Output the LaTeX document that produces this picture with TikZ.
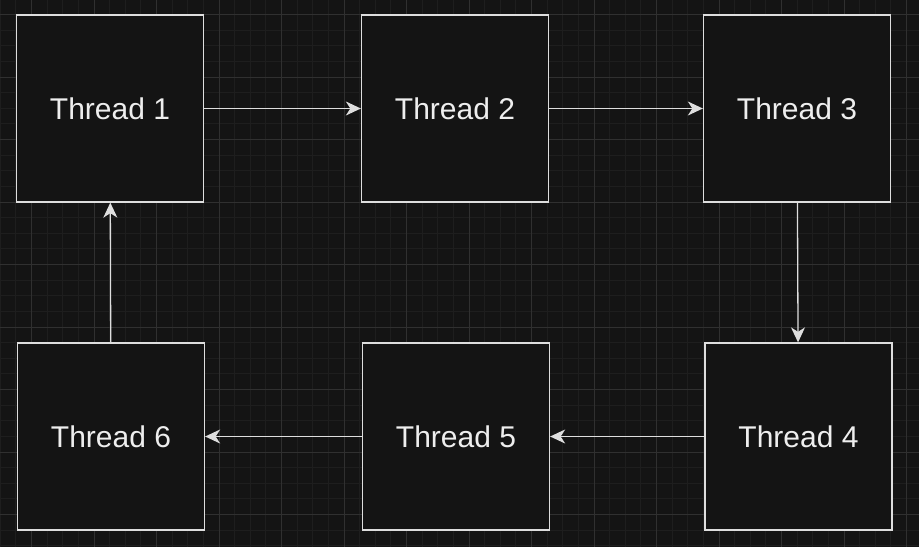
\documentclass[tikz,border=0pt]{standalone}
\usepackage{fontspec}
\setmainfont{Liberation Sans}
\usetikzlibrary{arrows.meta}

\definecolor{fundo}{RGB}{20,20,20}
\definecolor{gradefina}{RGB}{30,30,30}
\definecolor{gradegrossa}{RGB}{48,48,48}
\definecolor{linha}{RGB}{222,222,222}
\definecolor{texto}{RGB}{238,238,238}

\tikzset{
  caixa/.style={draw=linha, fill=fundo, line width=1.3pt, minimum size=187pt,
    inner sep=0pt, text=texto, font=\fontsize{30}{36}\selectfont},
  seta/.style={draw=linha, line width=1.3pt,
    -{Stealth[length=15pt, width=14pt, inset=4.5pt]}}
}

\begin{document}
\begin{tikzpicture}[x=1pt,y=-1pt]

% Fundo
\useasboundingbox (0,0) rectangle (919,547);
\fill[fundo] (0,0) rectangle (919,547);

% Grade
\begin{scope}
\clip (0,0) rectangle (919,547);
\foreach \i in {0,...,58}
  \draw[gradefina, line width=0.8pt] ({0.25+15.625*\i},0) -- ++(0,547);
\foreach \i in {0,...,34}
  \draw[gradefina, line width=0.8pt] (0,{14.5+15.625*\i}) -- ++(919,0);
\foreach \i in {0,...,14}
  \draw[gradegrossa, line width=0.8pt] ({31.5+62.5*\i},0) -- ++(0,547);
\foreach \i in {0,...,8}
  \draw[gradegrossa, line width=0.8pt] (0,{14.5+62.5*\i}) -- ++(919,0);
\end{scope}

% Caixas
\node[caixa] (t1) at (110,108.5) {Thread 1};
\node[caixa] (t2) at (455,108.5) {Thread 2};
\node[caixa] (t3) at (797,108.5) {Thread 3};
\node[caixa] (t4) at (798.5,436.5) {Thread 4};
\node[caixa] (t5) at (456,436.5) {Thread 5};
\node[caixa] (t6) at (111,436.5) {Thread 6};

% Setas
\draw[seta] (t1) -- (t2);
\draw[seta] (t2) -- (t3);
\draw[seta] (t3) -- (t4);
\draw[seta] (t4) -- (t5);
\draw[seta] (t5) -- (t6);
\draw[seta] (t6) -- (t1);

\end{tikzpicture}
\end{document}
